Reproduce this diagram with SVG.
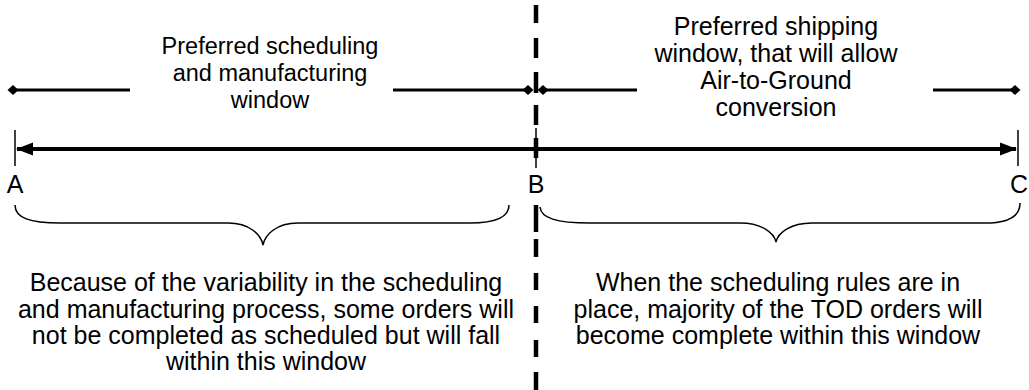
<svg xmlns="http://www.w3.org/2000/svg" width="1029" height="390" viewBox="0 0 1029 390">
<style>
text{font-family:"Liberation Sans",Arial,sans-serif;font-size:25px;fill:#000;text-anchor:middle}
.tl text{font-size:23.5px}
.thin{stroke:#000;stroke-width:1.5;fill:none}
.seg{stroke:#000;stroke-width:3;fill:none}
.main{stroke:#000;stroke-width:4;fill:none}
.dash{stroke:#000;stroke-width:4.5;fill:none}
</style>
<defs>
<marker id="dia" viewBox="-6 -6 12 12" markerWidth="12" markerHeight="12" refX="0" refY="0" markerUnits="userSpaceOnUse" orient="auto">
<path d="M-5.5,0 L0,-5 L5.5,0 L0,5 Z" fill="#000"/>
</marker>
<marker id="arr" viewBox="0 -7 17 14" markerWidth="17" markerHeight="14" refX="16" refY="0" markerUnits="userSpaceOnUse" orient="auto-start-reverse">
<path d="M0,-6.5 L17,0 L0,6.5 Z" fill="#000"/>
</marker>
</defs>
<g id="connectors">
<path class="dash" d="M536,5V23 M536,38V58 M536,72V93 M536,105V125 M536,138V158 M536,205V232 M536,239V257 M536,273V290 M536,306V323 M536,340V357 M536,372V390"/>
<line class="seg" x1="13" y1="90" x2="130" y2="90" marker-start="url(#dia)"/>
<line class="seg" x1="393" y1="90" x2="528" y2="90" marker-end="url(#dia)"/>
<line class="seg" x1="543" y1="90" x2="637" y2="90" marker-start="url(#dia)"/>
<line class="seg" x1="933" y1="90" x2="1015" y2="90" marker-end="url(#dia)"/>
<line class="main" x1="17" y1="149" x2="1016" y2="149" marker-start="url(#arr)" marker-end="url(#arr)"/>
<line class="thin" x1="15" y1="130" x2="15" y2="166"/>
<line class="thin" x1="1018" y1="130" x2="1018" y2="166"/>
<line class="thin" x1="536" y1="128" x2="536" y2="168"/>
<path class="thin" d="M15,205 C15,218 30,223 60,223 L228,223 C250,223 261,235 263,245 C265,235 276,223 298,223 L470,223 C495,223 509,218 509,205"/>
<path class="thin" d="M540,207 C541,218 556,223 590,223 L740,223 C762,223 774,233 776,242 C778,233 790,223 812,223 L985,223 C1010,223 1020,215 1020,203"/>
</g>
<g id="label-A"><text x="15" y="193">A</text></g>
<g id="label-B"><text x="536" y="193">B</text></g>
<g id="label-C"><text x="1019" y="193">C</text></g>
<g id="top-left" class="tl">
<text x="270" y="54">Preferred scheduling</text>
<text x="270" y="81">and manufacturing</text>
<text x="270" y="108">window</text>
</g>
<g id="top-right">
<text x="776" y="35">Preferred shipping</text>
<text x="776" y="62">window, that will allow</text>
<text x="776" y="89">Air-to-Ground</text>
<text x="776" y="116">conversion</text>
</g>
<g id="bottom-left">
<text x="266" y="291">Because of the variability in the scheduling</text>
<text x="266" y="318">and manufacturing process, some orders will</text>
<text x="266" y="344">not be completed as scheduled but will fall</text>
<text x="266" y="370">within this window</text>
</g>
<g id="bottom-right">
<text x="778" y="291">When the scheduling rules are in</text>
<text x="778" y="318">place, majority of the TOD orders will</text>
<text x="778" y="344">become complete within this window</text>
</g>
</svg>
